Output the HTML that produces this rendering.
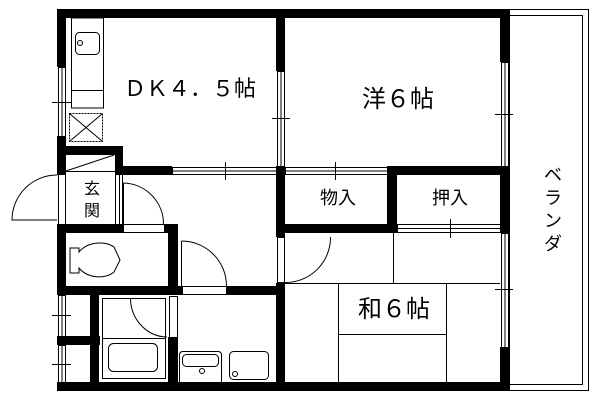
<!DOCTYPE html>
<html><head><meta charset="utf-8"><style>body{margin:0;background:#fff}svg{display:block}text{font-family:"Liberation Sans","Noto Sans CJK JP",sans-serif;fill:#000}</style></head><body>
<svg width="600" height="400" viewBox="0 0 600 400" xmlns="http://www.w3.org/2000/svg">
<g fill="none" stroke="#000" stroke-width="1">
<rect x="509.5" y="9.5" width="79" height="381"/>
<polyline points="509,15.5 582.5,15.5 582.5,384.5 509,384.5"/>
<rect x="58.5" y="67.5" width="7" height="69"/><line x1="62" y1="67" x2="62" y2="136"/>
<line x1="52" y1="102.5" x2="71" y2="102.5"/>
<rect x="277.5" y="71.5" width="7" height="95"/><line x1="281" y1="71" x2="281" y2="166"/>
<line x1="272" y1="118.5" x2="290" y2="118.5"/>
<rect x="501.5" y="62.5" width="7" height="104"/><line x1="505" y1="62" x2="505" y2="166"/>
<line x1="495" y1="114.5" x2="513" y2="114.5"/>
<rect x="501.5" y="233.5" width="7" height="114"/><line x1="505" y1="233" x2="505" y2="347"/>
<line x1="495" y1="289.5" x2="513" y2="289.5"/>
<rect x="172.5" y="167.5" width="104" height="7"/><line x1="172" y1="171" x2="276" y2="171"/>
<line x1="225.5" y1="162" x2="225.5" y2="180"/>
<rect x="285.5" y="167.5" width="102" height="7"/><line x1="285" y1="171" x2="387" y2="171"/>
<line x1="335.5" y1="162" x2="335.5" y2="180"/>
<rect x="397.5" y="224.5" width="103" height="8"/><line x1="397" y1="228.5" x2="500" y2="228.5"/>
<line x1="450.5" y1="219" x2="450.5" y2="238"/>
<rect x="58.5" y="295.5" width="7" height="41"/><line x1="62" y1="295" x2="62" y2="336"/>
<line x1="52" y1="315.5" x2="71" y2="315.5"/>
<rect x="58.5" y="345.5" width="7" height="37"/><line x1="62" y1="345" x2="62" y2="382"/>
<line x1="52" y1="364.5" x2="71" y2="364.5"/>
<rect x="123.5" y="224.5" width="41" height="8"/>
<rect x="182.5" y="286.5" width="44" height="8"/>
<rect x="277.5" y="237.5" width="7" height="45"/>
<rect x="169.5" y="296.5" width="8" height="41"/>
<line x1="115.5" y1="175" x2="115.5" y2="224"/><line x1="119.5" y1="175" x2="119.5" y2="224"/><line x1="122.5" y1="175" x2="122.5" y2="224"/>
<line x1="58.5" y1="175" x2="58.5" y2="224"/><line x1="65.5" y1="175" x2="65.5" y2="224"/>
<path d="M57,175 A45,45 0 0 0 12,220 L57,220"/>
<path d="M123.5,183 A41,41 0 0 1 163.5,224"/><line x1="123.5" y1="183" x2="123.5" y2="224"/>
<path d="M181.5,241 A45,45 0 0 1 226.5,286"/><line x1="181.5" y1="241" x2="181.5" y2="286"/>
<path d="M330.5,237 A45,45 0 0 1 285,282.5"/>
<path d="M130.5,298 A37,39 0 0 0 167,337"/>
<line x1="66" y1="171.5" x2="115" y2="171.5"/><line x1="66" y1="171" x2="114" y2="155"/>
<rect x="71.5" y="18" width="32" height="90"/>
<line x1="71" y1="90.5" x2="103" y2="90.5"/>
<rect x="75.5" y="32.5" width="24" height="22" rx="4"/>
<circle cx="80" cy="43" r="2.5"/>
<rect x="69.5" y="113.5" width="33" height="28" stroke-dasharray="2,1"/>
<line x1="70" y1="114" x2="102" y2="141"/><line x1="102" y1="114" x2="70" y2="141"/>
<path d="M70,248 L79,248 L79,252 C88,241 106,241 114,247 L120,260 L114,272 C106,279 88,279 79,268 L79,273 L70,273 Z"/>
<rect x="102.5" y="298.5" width="63" height="80"/>
<line x1="102" y1="338.5" x2="165" y2="338.5"/>
<rect x="108.5" y="343.5" width="49" height="28" rx="5"/>
<path d="M179.5,382 L179.5,355 Q179.5,351.5 183,351.5 L218,351.5 Q221.5,351.5 221.5,355 L221.5,382"/>
<rect x="182.5" y="354.5" width="36" height="12" rx="4"/>
<circle cx="202" cy="371" r="2.5"/>
<rect x="229.5" y="351.5" width="39" height="28" rx="4"/>
<circle cx="235" cy="374" r="2.5"/>
<line x1="285" y1="283.5" x2="500" y2="283.5"/>
<line x1="393.5" y1="233" x2="393.5" y2="283"/>
<line x1="338.5" y1="283" x2="338.5" y2="382"/>
<line x1="446.5" y1="283" x2="446.5" y2="382"/>
<line x1="338" y1="334.5" x2="446" y2="334.5"/>
</g>
<g fill="#000">
<rect x="57" y="9" width="452" height="9"/>
<rect x="57" y="382" width="452" height="9"/>
<rect x="57" y="9" width="9" height="58"/>
<rect x="57" y="136" width="9" height="39"/>
<rect x="57" y="224" width="9" height="71"/>
<rect x="57" y="336" width="43" height="9"/>
<rect x="276" y="9" width="9" height="62"/>
<rect x="500" y="9" width="9" height="53"/>
<rect x="500" y="166" width="9" height="67"/>
<rect x="500" y="347" width="9" height="43"/>
<rect x="57" y="146" width="66" height="9"/>
<rect x="115" y="146" width="8" height="29"/>
<rect x="115" y="166" width="57" height="9"/>
<rect x="276" y="166" width="9" height="71"/>
<rect x="387" y="166" width="113" height="9"/>
<rect x="387" y="166" width="10" height="67"/>
<rect x="276" y="224" width="121" height="9"/>
<rect x="276" y="283" width="9" height="107"/>
<rect x="57" y="224" width="66" height="9"/>
<rect x="165" y="224" width="13" height="9"/>
<rect x="168" y="224" width="10" height="71"/>
<rect x="57" y="286" width="125" height="9"/>
<rect x="226" y="286" width="59" height="9"/>
<rect x="90" y="295" width="9" height="87"/>
<rect x="168" y="337" width="10" height="45"/>
</g>
<text x="190" y="96" font-size="22" text-anchor="middle">ＤＫ４．５帖</text>
<text x="398" y="107" font-size="24" text-anchor="middle">洋６帖</text>
<text x="338" y="204" font-size="18" text-anchor="middle">物入</text>
<text x="450" y="204" font-size="18" text-anchor="middle">押入</text>
<text x="394" y="317" font-size="24" text-anchor="middle">和６帖</text>
<text x="92" y="194" font-size="16" text-anchor="middle">玄</text>
<text x="92" y="216" font-size="16" text-anchor="middle">関</text>
<text x="553" y="181" font-size="18" text-anchor="middle">ベ</text>
<text x="553" y="204" font-size="18" text-anchor="middle">ラ</text>
<text x="553" y="227" font-size="18" text-anchor="middle">ン</text>
<text x="553" y="250" font-size="18" text-anchor="middle">ダ</text>
</svg>
</body></html>
